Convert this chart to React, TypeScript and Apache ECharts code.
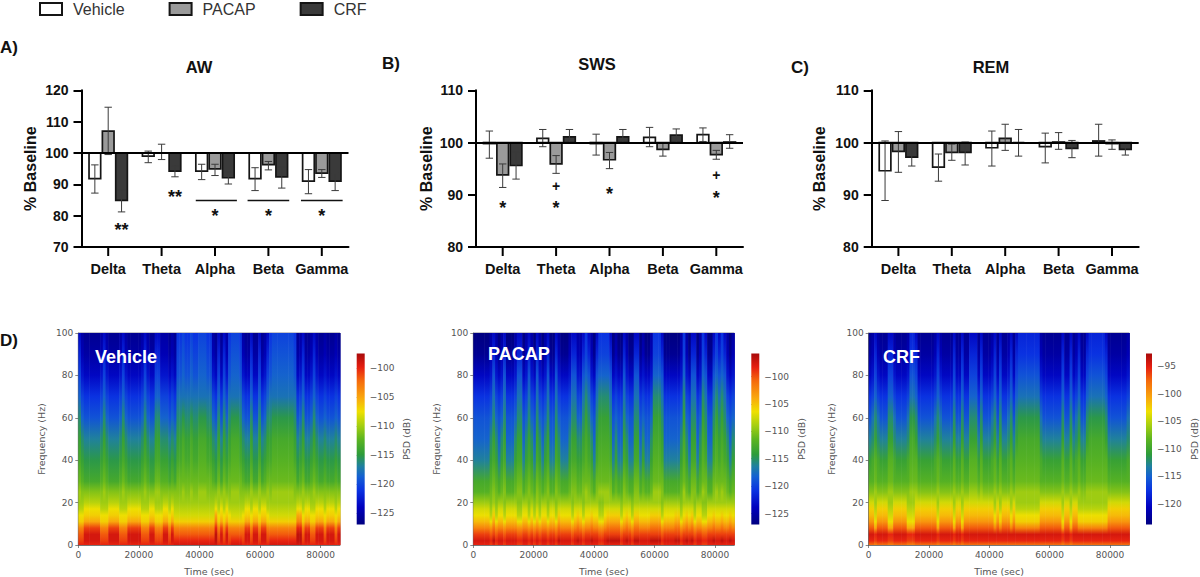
import React, { useEffect, useRef } from "react";
import * as echarts from "echarts";

const bands = ["Delta", "Theta", "Alpha", "Beta", "Gamma"];
const groups = ["Vehicle", "PACAP", "CRF"];

// AW
const awVehicleMean = [91.8, 99, 94.2, 91.8, 91];
const awVehicleHigh = [96.2, 100.6, 96.4, 95.3, 94.7];
const awVehicleLow = [87.2, 96.9, 91.5, 88, 87];
const awPacapMean = [107, 100, 94.9, 96.3, 93.6];
const awPacapHigh = [114.6, 102.8, 96.4, 97.3, 94.7];
const awPacapLow = [99.5, 97.9, 92.8, 94.6, 92.2];
const awCrfMean = [84.9, 94.2, 92.1, 92.4, 91];
const awCrfHigh = [88.3, 95.9, 93.9, 95.4, 93.6];
const awCrfLow = [81.2, 92.4, 90.1, 88.8, 88];
// SWS
const swsVehicleMean = [99.8, 100.8, 99.8, 101, 101.5];
const swsVehicleHigh = [102.2, 102.5, 101.6, 102.9, 102.8];
const swsVehicleLow = [97, 99.2, 97.6, 99.2, 100.2];
const swsPacapMean = [93.8, 95.9, 96.7, 98.7, 97.7];
const swsPacapHigh = [95.9, 97.5, 98.1, 99.9, 98.5];
const swsPacapLow = [91.4, 94.1, 95, 97.4, 96.8];
const swsCrfMean = [95.6, 101.1, 101.1, 101.4, 100.1];
const swsCrfHigh = [98.1, 102.5, 102.5, 102.6, 101.5];
const swsCrfLow = [93, 100, 100, 100, 98.9];
// REM
const remVehicleMean = [94.6, 95.3, 99, 99.2, 100.3];
const remVehicleHigh = [100.3, 97.8, 102.2, 101.8, 103.5];
const remVehicleLow = [88.9, 92.6, 95.5, 96.1, 97.4];
const remPacapMean = [98.3, 98.1, 100.8, 100.1, 99.8];
const remPacapHigh = [102.1, 99.7, 103.5, 101.9, 100.5];
const remPacapLow = [94.3, 96.6, 98.5, 98.7, 98.7];
const remCrfMean = [97.2, 98.1, 100, 98.9, 98.7];
const remCrfHigh = [98.8, 100.1, 102.5, 100.4, 99.7];
const remCrfLow = [95.5, 95.7, 97.4, 97.1, 97.6];

// [band index, offset in bands, value, text]
const awMarks: [number, number, number, string][] = [
  [0, 0.25, 75.4, "**"], [1, 0.25, 86.1, "**"], [2, 0, 80, "*"], [3, 0, 80, "*"], [4, 0, 80, "*"],
];
const swsMarks: [number, number, number, string][] = [
  [0, 0, 87.4, "*"], [1, 0, 91.7, "+"], [1, 0, 87.4, "*"], [2, 0, 90.1, "*"], [4, 0, 93.7, "+"], [4, 0, 89.4, "*"],
];
const remMarks: [number, number, number, string][] = [];
// [band index, start offset, end offset, value]
const awLines: [number, number, number, number][] = [
  [2, -0.36, 0.41, 84.8], [3, -0.39, 0.39, 84.8], [4, -0.39, 0.39, 84.8],
];

// spectrogram nodes (Hz) and colour levels (base 36, 0-z along each colour bar)
const lowFreqs = [0, 2, 5, 8, 11, 14, 17, 20];
const highFreqs = [25, 30, 40, 50, 60, 70, 80, 90, 100];
const timeStep = 900;

const vehicleLowTypes: Record<string, string> = { a: "wxxvqonl", b: "xwusomlk", c: "xyywsqnl", d: "wvusonlk" };
const vehicleHighTypes: Record<string, string> = { A: "jgec97421", B: "jhfda8532", C: "kigfda864", D: "jigfdb987", E: "kihgeba98" };
const vehicleLowSeq =
  "ddaaaaaa" + "dddaaaad" + "ddaaaaad" + "ddaaddda" + "adabbbbb" + "bbbbbbbb" +
  "bbcdadad" + "bbbbdaad" + "aadaadbb" + "bbbbbbbb" + "ccdaadda" + "aadaaada";
const vehicleHighSeq =
  "CBAAAAAA" + "BCBAAAAB" + "CBAAAAAB" + "CBAACCBB" + "BABADDED" + "DEDDEEED" +
  "DBACACBD" + "EEEDBAAC" + "AACABCDE" + "EEEEEEED" + "ABCAABCB" + "AABAAABA";

const pacapLowTypes: Record<string, string> = { a: "wxvspnmk", b: "wyvtqomk", c: "vwurnlkj" };
const pacapHighTypes: Record<string, string> = { A: "hgca97410", B: "ihfda8532", C: "jigfdb964", D: "kihgfda87" };
const pacapLowSeq =
  "aaaaaacb" + "caacaaaa" + "ccaacaca" + "caacaacb" + "aaaacaba" + "caabaacc" +
  "abbbbbca" + "bacbbaaa" + "abbbbcaa" + "aabbcaba" + "bcaaccaa" + "baabaaba";
const pacapHighSeq =
  "AAAAAABC" + "BABCAAAB" + "CCABCBAC" + "BABCAACB" + "AAABCCBB" + "CDCBACDD" +
  "DDCABAAC" + "BAACCABA" + "ABDDDCAA" + "AAAABDBA" + "CCABDCAA" + "CDCDCBAB";

const crfLowTypes: Record<string, string> = { a: "twxurpom", b: "twxsonlk", c: "svwqnmlk" };
const crfHighTypes: Record<string, string> = { A: "jhfc97421", B: "jhgdb8532", C: "kihfda864", D: "kihgeb976" };
const crfLowSeq =
  "aacaaaac" + "caaaaacc" + "caaaaaaa" + "acaaaaac" + "aacaaaaa" + "aaaaaaba" +
  "baaababb" + "bbbbbbba" + "aaaaaaac" + "aacaabbb" + "bbbbbbbb" + "aaaaaaaa";
const crfHighSeq =
  "ABCBAAAC" + "CBAAAABD" + "DCAAAAAA" + "BCBAAAAC" + "AACAACCC" + "ACAAABCA" +
  "CAABCACD" + "DDDDDDDB" + "AAAAAAAC" + "AACABCAA" + "CDDDDDDC" + "AAAAAAAB";

const vehicleRange = [-127, -97.5];
const pacapRange = [-127, -95.8];
const crfRange = [-123.8, -92.7];
const vehicleTicks = [-125, -120, -115, -110, -105, -100];
const pacapTicks = [-125, -120, -115, -110, -105, -100];
const crfTicks = [-120, -115, -110, -105, -100, -95];
const timeTicks = [0, 20000, 40000, 60000, 80000];

const cmap: [number, number[]][] = [
  [0, [0, 0, 128]], [0.1, [0, 0, 190]], [0.2, [10, 50, 225]], [0.28, [20, 96, 210]],
  [0.34, [31, 128, 160]], [0.41, [45, 156, 58]], [0.5, [93, 181, 32]], [0.58, [166, 207, 16]],
  [0.66, [239, 224, 0]], [0.74, [249, 168, 13]], [0.84, [245, 106, 12]], [0.92, [230, 30, 16]], [1, [168, 10, 10]],
];
function colorAt(t: number) {
  const u = Math.max(0, Math.min(1, t));
  for (let i = 1; i < cmap.length; i++) {
    if (u <= cmap[i][0]) {
      const [a, ca] = cmap[i - 1];
      const [b, cb] = cmap[i];
      const k = (u - a) / (b - a);
      return `rgb(${ca.map((c, j) => Math.round(c + (cb[j] - c) * k)).join(",")})`;
    }
  }
  return "rgb(168,10,10)";
}

const AXIS_FONT = "Liberation Sans";
const barFills = ["#ffffff", "#9a9a9a", "#3a3a3a"];

function barSeries(name: string, idx: number, gi: number, mean: number[], hi: number[], lo: number[], withBase: boolean) {
  const s: any = {
    type: "custom", name, xAxisIndex: idx, yAxisIndex: idx, clip: false, z: 3,
    itemStyle: { color: barFills[gi], borderColor: "#151515", borderWidth: 1.7 },
    data: mean.map((m, i) => [i, m, hi[i], lo[i]]),
    encode: { x: 0, y: [1, 2, 3] },
    renderItem: (_p: any, api: any) => {
      const band = api.size([1, 0])[0];
      const w = band * 0.25;
      const cx = api.coord([api.value(0), 100])[0] + (gi - 1) * w;
      const yb = api.coord([0, 100])[1];
      const yv = api.coord([0, api.value(1)])[1];
      const yh = api.coord([0, api.value(2)])[1];
      const yl = api.coord([0, api.value(3)])[1];
      const err = { stroke: "#3a3a3a", lineWidth: 1 };
      return {
        type: "group",
        children: [
          { type: "rect", shape: { x: cx - w / 2 + 0.85, y: Math.min(yb, yv), width: w - 1.7, height: Math.abs(yv - yb) },
            style: { fill: barFills[gi], stroke: "#151515", lineWidth: 1.7 } },
          { type: "line", shape: { x1: cx, y1: yh, x2: cx, y2: yl }, style: err },
          { type: "line", shape: { x1: cx - 3.7, y1: yh, x2: cx + 3.7, y2: yh }, style: err },
          { type: "line", shape: { x1: cx - 3.7, y1: yl, x2: cx + 3.7, y2: yl }, style: err },
        ],
      };
    },
  };
  if (withBase) {
    s.markLine = {
      silent: true, symbol: "none", animation: false, z: 10, label: { show: false },
      lineStyle: { color: "#000", width: 2, type: "solid" }, data: [{ yAxis: 100 }],
    };
  }
  return s;
}

function markSeries(idx: number, marks: [number, number, number, string][]) {
  return {
    type: "custom", name: "significance", xAxisIndex: idx, yAxisIndex: idx, clip: false, z: 6,
    data: marks.map((m, i) => [m[0], m[2], i]),
    encode: { x: 0, y: 1 },
    renderItem: (_p: any, api: any) => {
      const m = marks[api.value(2)];
      const band = api.size([1, 0])[0];
      const p = api.coord([m[0], m[2]]);
      const size = m[3] === "+" ? 14 : 18;
      return {
        type: "text",
        style: { text: m[3], x: p[0] + m[1] * band, y: p[1], fill: "#111", align: "center", verticalAlign: "middle",
          font: `bold ${size}px "${AXIS_FONT}"` },
      };
    },
  };
}

function lineSeries(idx: number, lines: [number, number, number, number][]) {
  return {
    type: "custom", name: "significance span", xAxisIndex: idx, yAxisIndex: idx, clip: false, z: 6,
    data: lines.map((l) => [l[0], l[3], l[1], l[2]]),
    encode: { x: 0, y: 1 },
    renderItem: (_p: any, api: any) => {
      const band = api.size([1, 0])[0];
      const p = api.coord([api.value(0), api.value(1)]);
      return {
        type: "line",
        shape: { x1: p[0] + api.value(2) * band, y1: p[1], x2: p[0] + api.value(3) * band, y2: p[1] },
        style: { stroke: "#111", lineWidth: 1.5 },
      };
    },
  };
}

function heatColumns(lowT: Record<string, string>, highT: Record<string, string>, lowS: string, highS: string, range: number[]) {
  return Array.from(lowS).map((ch, i) => {
    const code = lowT[ch] + highT[highS[i]];
    const db = Array.from(code).map((c) => +(range[0] + (parseInt(c, 36) / 35) * (range[1] - range[0])).toFixed(2));
    return [i * timeStep, Math.min((i + 1) * timeStep, 86400), ...db];
  });
}

function heatSeries(name: string, idx: number, cols: number[][], range: number[]) {
  const freqs = [...lowFreqs, ...highFreqs];
  return {
    type: "custom", name, xAxisIndex: idx, yAxisIndex: idx, clip: true, z: 2,
    data: cols,
    encode: { x: [0, 1] },
    renderItem: (_p: any, api: any) => {
      const a = api.coord([api.value(0), 100]);
      const b = api.coord([api.value(1), 0]);
      const stops = freqs
        .map((f, k) => ({ offset: 1 - f / 100, color: colorAt((api.value(k + 2) - range[0]) / (range[1] - range[0])) }))
        .reverse();
      return {
        type: "rect",
        shape: { x: a[0], y: a[1], width: b[0] - a[0] + 0.6, height: b[1] - a[1] },
        style: { fill: new echarts.graphic.LinearGradient(0, 0, 0, 1, stops) },
      };
    },
  };
}

function colorbarSeries(idx: number, range: number[]) {
  const n = cmap.length;
  return {
    type: "custom", name: "colour bar", xAxisIndex: idx, yAxisIndex: idx, z: 2,
    data: [[0, range[0], range[1]]],
    encode: { y: [1, 2] },
    renderItem: (_p: any, api: any) => {
      const top = api.coord([0, api.value(2)]);
      const bot = api.coord([0, api.value(1)]);
      const w = api.size([1, 0])[0];
      return {
        type: "rect",
        shape: { x: top[0], y: top[1], width: w, height: bot[1] - top[1] },
        style: {
          fill: new echarts.graphic.LinearGradient(0, 0, 0, 1,
            Array.from({ length: n }, (_v, i) => ({ offset: 1 - cmap[n - 1 - i][0], color: colorAt(cmap[n - 1 - i][0]) }))),
        },
      };
    },
  };
}

const barPanels = [
  { left: 81.5, min: 70, max: 120, gap: 43 },
  { left: 476, min: 80, max: 110, gap: 42 },
  { left: 871.7, min: 80, max: 110, gap: 44 },
];
const heatPanels = [
  { left: 78.3, width: 261.7, barLeft: 356.7, range: vehicleRange, ticks: vehicleTicks },
  { left: 473.3, width: 261, barLeft: 751.3, range: pacapRange, ticks: pacapTicks },
  { left: 868.7, width: 260.6, barLeft: 1146, range: crfRange, ticks: crfTicks },
];

function buildOption() {
  const grid: any[] = [];
  const xAxis: any[] = [];
  const yAxis: any[] = [];
  const black = { color: "#000", width: 2 };
  barPanels.forEach((p) => {
    grid.push({ left: p.left, top: 90.3, width: 267, height: 156.7 });
    xAxis.push({
      type: "category", gridIndex: grid.length - 1, data: bands, position: "bottom",
      axisLine: { onZero: false, lineStyle: black }, axisTick: { alignWithLabel: false, show: false },
      axisLabel: { show: true, interval: 0, margin: 14, color: "#111", fontFamily: AXIS_FONT, fontWeight: "bold", fontSize: 14.5 },
    });
    yAxis.push({
      type: "value", gridIndex: grid.length - 1, min: p.min, max: p.max, interval: 10, name: "% Baseline",
      nameLocation: "middle", nameGap: p.gap, nameRotate: 90,
      nameTextStyle: { color: "#111", fontFamily: AXIS_FONT, fontWeight: "bold", fontSize: 16 },
      splitLine: { show: false }, axisLine: { show: true, lineStyle: black },
      axisTick: { show: true, length: 8, lineStyle: black },
      axisLabel: { margin: 13, color: "#111", fontFamily: AXIS_FONT, fontWeight: "bold", fontSize: 14 },
    });
  });
  const thin = { color: "#555", width: 0.7 };
  const thinText = { color: "#555", fontFamily: "DejaVu Sans", fontSize: 9 };
  const nameText = { ...thinText, fontSize: 9.5 };
  heatPanels.forEach((p) => {
    grid.push({ left: p.left, top: 333, width: p.width, height: 213, show: true, borderColor: "#556", borderWidth: 0.7, backgroundColor: "transparent" });
    xAxis.push({
      type: "value", gridIndex: grid.length - 1, min: 0, max: 86400, name: "Time (sec)", nameLocation: "middle", nameGap: 21,
      nameTextStyle: nameText, splitLine: { show: false },
      axisLine: { lineStyle: thin }, axisTick: { length: 3, lineStyle: thin, customValues: timeTicks },
      axisLabel: { ...thinText, margin: 5, customValues: timeTicks, formatter: (v: number) => String(v) },
    });
    yAxis.push({
      type: "value", gridIndex: grid.length - 1, min: 0, max: 100, interval: 20, name: "Frequency (Hz)", nameLocation: "middle",
      nameGap: 32, nameRotate: 90, nameTextStyle: nameText, splitLine: { show: false },
      axisLine: { show: true, lineStyle: thin }, axisTick: { show: true, length: 3, lineStyle: thin },
      axisLabel: { ...thinText, margin: 5 },
    });
  });
  heatPanels.forEach((p) => {
    grid.push({ left: p.barLeft, top: 353.5, width: 8, height: 171 });
    xAxis.push({ type: "value", gridIndex: grid.length - 1, min: 0, max: 1, show: false });
    yAxis.push({
      type: "value", gridIndex: grid.length - 1, position: "right", min: p.range[0], max: p.range[1],
      name: "PSD (dB)", nameLocation: "middle", nameGap: 37, nameRotate: 90, nameTextStyle: nameText, splitLine: { show: false },
      axisLine: { show: false }, axisTick: { show: true, length: 3, lineStyle: thin, customValues: p.ticks },
      axisLabel: { ...thinText, margin: 5, customValues: p.ticks, formatter: (v: number) => "\u2212" + Math.abs(v) },
    });
  });

  const series: any[] = [
    barSeries("Vehicle", 0, 0, awVehicleMean, awVehicleHigh, awVehicleLow, false),
    barSeries("PACAP", 0, 1, awPacapMean, awPacapHigh, awPacapLow, false),
    barSeries("CRF", 0, 2, awCrfMean, awCrfHigh, awCrfLow, true),
    markSeries(0, awMarks),
    lineSeries(0, awLines),
    barSeries("Vehicle", 1, 0, swsVehicleMean, swsVehicleHigh, swsVehicleLow, false),
    barSeries("PACAP", 1, 1, swsPacapMean, swsPacapHigh, swsPacapLow, false),
    barSeries("CRF", 1, 2, swsCrfMean, swsCrfHigh, swsCrfLow, true),
    markSeries(1, swsMarks),
    barSeries("Vehicle", 2, 0, remVehicleMean, remVehicleHigh, remVehicleLow, false),
    barSeries("PACAP", 2, 1, remPacapMean, remPacapHigh, remPacapLow, false),
    barSeries("CRF", 2, 2, remCrfMean, remCrfHigh, remCrfLow, true),
    markSeries(2, remMarks),
    heatSeries("Vehicle PSD", 3, heatColumns(vehicleLowTypes, vehicleHighTypes, vehicleLowSeq, vehicleHighSeq, vehicleRange), vehicleRange),
    heatSeries("PACAP PSD", 4, heatColumns(pacapLowTypes, pacapHighTypes, pacapLowSeq, pacapHighSeq, pacapRange), pacapRange),
    heatSeries("CRF PSD", 5, heatColumns(crfLowTypes, crfHighTypes, crfLowSeq, crfHighSeq, crfRange), crfRange),
    colorbarSeries(6, vehicleRange),
    colorbarSeries(7, pacapRange),
    colorbarSeries(8, crfRange),
  ];

  // band ticks at the centre of each category
  const tickSeries = [0, 1, 2].map((idx) => ({
    type: "custom", name: "band ticks", xAxisIndex: idx, yAxisIndex: idx, clip: false, z: 4,
    data: bands.map((_b, i) => [i, barPanels[idx].min]),
    encode: { x: 0, y: 1 },
    renderItem: (_p: any, api: any) => {
      const c = api.coord([api.value(0), api.value(1)]);
      return { type: "line", shape: { x1: c[0], y1: c[1], x2: c[0], y2: c[1] + 9 }, style: { stroke: "#000", lineWidth: 2 } };
    },
  }));
  series.push(...tickSeries);

  const bold = (size: number) => ({ fontFamily: AXIS_FONT, fontWeight: "bold", fontSize: size, color: "#111" });
  const txt = (text: string, x: number, y: number, size: number, fill = "#111") => ({
    type: "text", x, y, z: 50,
    style: { text, fill, font: `bold ${size}px "${AXIS_FONT}"`, textVerticalAlign: "middle", verticalAlign: "middle" },
  });

  return {
    animation: false,
    backgroundColor: "#fff",
    title: [
      { text: "AW", left: 194, top: 53, textAlign: "center", textStyle: bold(16.5) },
      { text: "SWS", left: 592, top: 50, textAlign: "center", textStyle: bold(16.5) },
      { text: "REM", left: 986, top: 53, textAlign: "center", textStyle: bold(16.5) },
    ],
    legend: {
      data: groups, left: 39, top: 1, padding: 0, icon: "rect", itemWidth: 22, itemHeight: 12, itemGap: 44, selectedMode: false,
      textStyle: { fontFamily: AXIS_FONT, fontSize: 16, color: "#333", padding: [0, 0, 0, 6] },
    },
    grid, xAxis, yAxis, series,
    graphic: [
      txt("A)", 0, 47, 17),
      txt("B)", 382, 63, 17),
      txt("C)", 791, 67, 17),
      txt("D)", 0, 340, 17),
      txt("Vehicle", 95, 357, 18, "#fff"),
      txt("PACAP", 488, 354, 18, "#fff"),
      txt("CRF", 883, 357, 18, "#fff"),
    ],
  };
}

export default function App() {
  const ref = useRef<HTMLDivElement>(null);
  useEffect(() => {
    const chart = echarts.init(ref.current!, undefined, { renderer: "svg" });
    chart.setOption(buildOption() as any);
    return () => chart.dispose();
  }, []);
  return <div ref={ref} style={{ position: "absolute", left: 0, top: 0, width: 1200, height: 577 }} />;
}
